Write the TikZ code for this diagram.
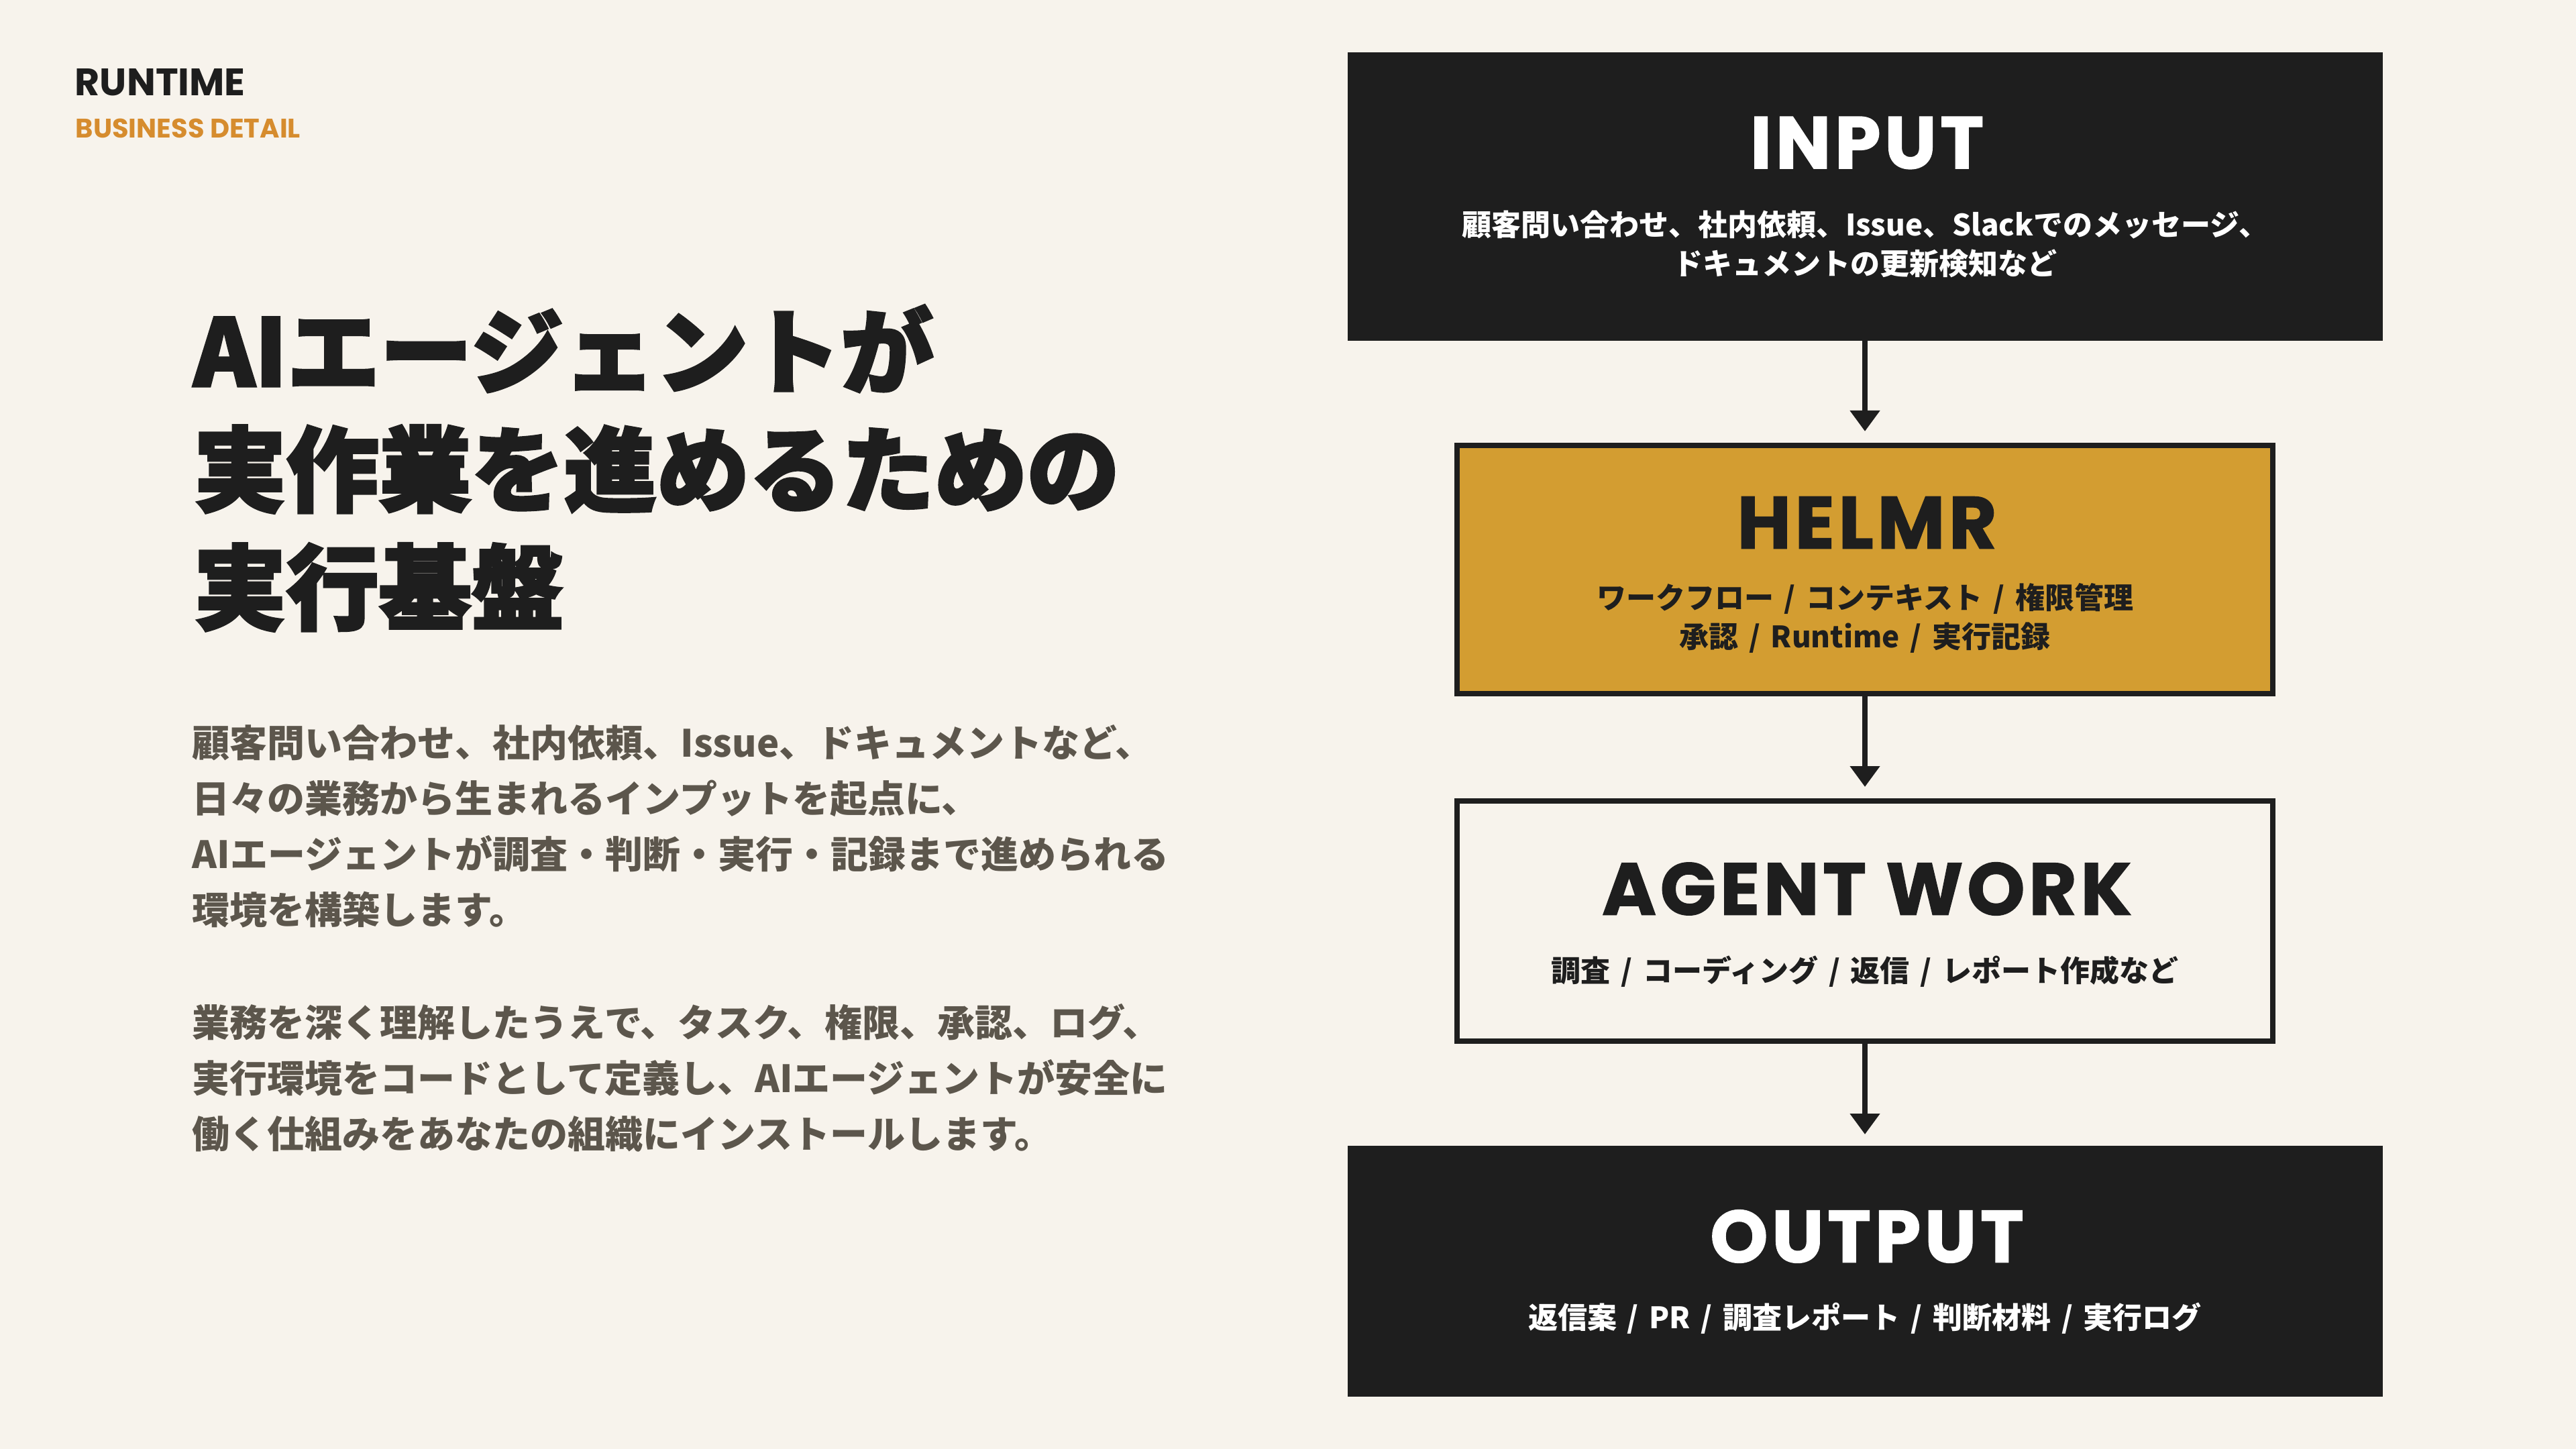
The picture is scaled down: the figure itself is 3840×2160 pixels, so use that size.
\documentclass[tikz,border=0pt]{standalone}
\usepackage{fontspec}
\usepackage{xcolor}
\usepackage{tikz}
\usetikzlibrary{arrows.meta,positioning}

\newfontfamily\jpfont{Noto Sans CJK JP}
\newfontfamily\jpheavy{Noto Sans CJK JP}[BoldFeatures={FakeBold=2.6}]
\newfontfamily\geofont{Poppins}
\newfontfamily\geoheavy{Poppins}[BoldFeatures={FakeBold=1.2,LetterSpace=5}]
\newcommand{\slashsep}{\hspace{.36em}/\hspace{.36em}}

\definecolor{paper}{HTML}{F7F3EC}
\definecolor{ink}{HTML}{1E1E1E}
\definecolor{helmrgold}{HTML}{D39D31}
\definecolor{accent}{HTML}{D68C2E}
\definecolor{bodygrey}{HTML}{5C564C}

\begin{document}
\begin{tikzpicture}[x=0.25pt,y=-0.25pt,
    darkbox/.style={fill=ink,draw=none,minimum width=385.75pt,inner sep=0pt,outer sep=0pt},
    lightbox/.style={draw=ink,line width=2pt,minimum width=304pt,inner sep=0pt,outer sep=1pt},
    boxtitle/.style={inner sep=0pt,font=\geoheavy\bfseries\fontsize{27.5pt}{30pt}\selectfont},
    boxnote/.style={inner sep=0pt,align=center,font=\jpfont\bfseries\fontsize{11pt}{14.5pt}\selectfont},
    desc/.style={anchor=west,align=left,inner sep=0pt,text=bodygrey,font=\jpfont\bfseries\fontsize{14pt}{20.75pt}\selectfont},
    flow/.style={draw=ink,line width=2.2pt,-{Triangle[width=10.75pt,length=7.75pt]},shorten >=4.25pt}]
    \fill[paper] (0,0) rectangle (3840,2160);
    \useasboundingbox (0,0) rectangle (3840,2160);

    \node[anchor=west,inner sep=0pt,text=ink,font=\geofont\bfseries\fontsize{14.25pt}{16pt}\selectfont] (runtime) at (111,123) {RUNTIME};
    \node[anchor=west,inner sep=0pt,text=accent,font=\geofont\bfseries\fontsize{10pt}{12pt}\selectfont] (business) at (112,191) {BUSINESS DETAIL};

    \node[anchor=west,align=left,inner sep=0pt,text=ink,font=\jpheavy\bfseries\fontsize{34.5pt}{44pt}\selectfont] (headline) at (288,698)
        {AIエージェントが\\実作業を進めるための\\実行基盤};
    \node[desc] (desc1) at (286,1232)
        {顧客問い合わせ、社内依頼、Issue、ドキュメントなど、\\日々の業務から生まれるインプットを起点に、\\AIエージェントが調査・判断・実行・記録まで進められる\\環境を構築します。};
    \node[desc] (desc2) at (286,1607)
        {業務を深く理解したうえで、タスク、権限、承認、ログ、\\実行環境をコードとして定義し、AIエージェントが安全に\\働く仕組みをあなたの組織にインストールします。};

    \node[darkbox,minimum height=107.5pt] (input) at (2780,293) {};
    \node[lightbox,fill=helmrgold,minimum height=92.5pt] (helmr) at (2780,849) {};
    \node[lightbox,fill=paper,minimum height=89.5pt] (agent) at (2780,1373) {};
    \node[darkbox,minimum height=93.5pt] (output) at (2780,1895) {};

    \node[boxtitle,text=white] (inputT) at (2783,213) {INPUT};
    \node[boxnote,text=white] (inputN) at (2780,364) {顧客問い合わせ、社内依頼、Issue、Slackでのメッセージ、\\ドキュメントの更新検知など};
    \node[boxtitle,text=ink] (helmrT) at (2783,779) {HELMR};
    \node[boxnote,text=ink] (helmrN) at (2780,921.5) {ワークフロー\slashsep コンテキスト\slashsep 権限管理\\承認\slashsep Runtime\slashsep 実行記録};
    \node[boxtitle,text=ink] (agentT) at (2783,1325) {AGENT WORK};
    \node[boxnote,text=ink] (agentN) at (2780,1448) {調査\slashsep コーディング\slashsep 返信\slashsep レポート作成など};
    \node[boxtitle,text=white] (outputT) at (2783,1843) {OUTPUT};
    \node[boxnote,text=white] (outputN) at (2780,1965) {返信案\slashsep PR\slashsep 調査レポート\slashsep 判断材料\slashsep 実行ログ};

    \draw[flow] (input.south) -- (helmr.north);
    \draw[flow] (helmr.south) -- (agent.north);
    \draw[flow] (agent.south) -- (output.north);
\end{tikzpicture}
\end{document}
